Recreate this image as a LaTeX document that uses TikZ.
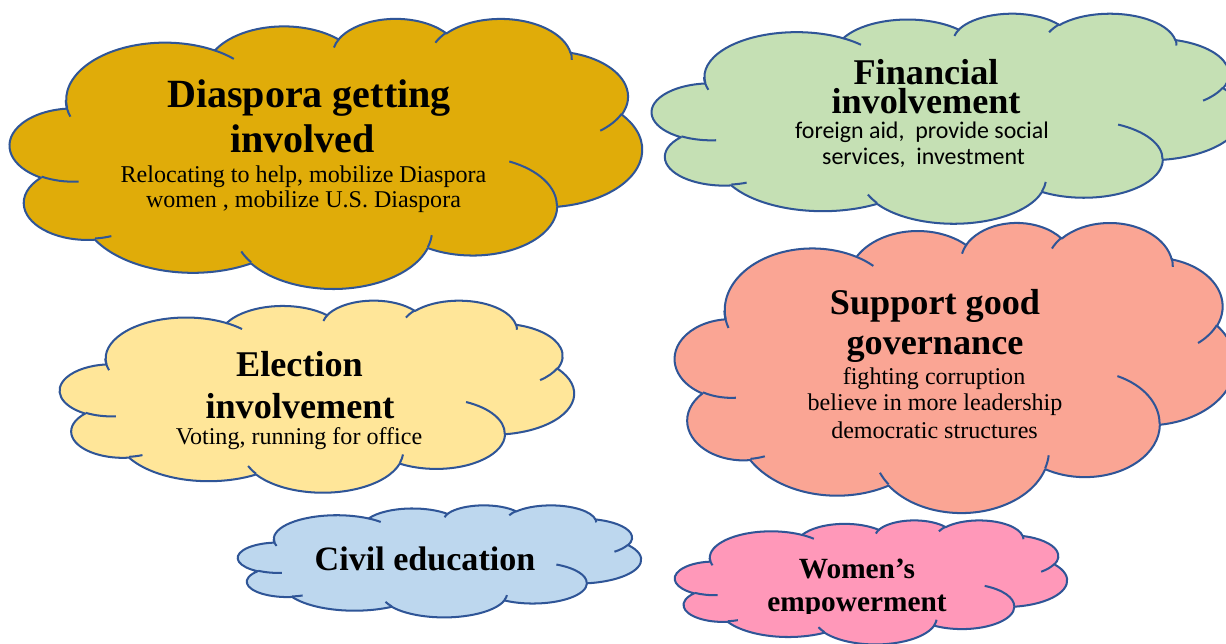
\documentclass[tikz,border=0pt]{standalone}
\usepackage{fontspec}
\setmainfont{Liberation Serif}
\newfontfamily\calfont{Carlito}
\definecolor{cgold}{RGB}{224,172,9}
\definecolor{cgreen}{RGB}{197,224,180}
\definecolor{cyellow}{RGB}{255,230,153}
\definecolor{csalmon}{RGB}{250,165,148}
\definecolor{cblue}{RGB}{189,215,238}
\definecolor{cpink}{RGB}{255,152,185}
\definecolor{cline}{RGB}{47,85,151}

\newcommand\defarc[5]{%
  \pgfmathsetmacro\clA{atan2((#2)*sin(#4),(#3)*cos(#4))}%
  \pgfmathsetmacro\clB{atan2((#2)*sin((#4)+(#5)),(#3)*cos((#4)+(#5)))}%
  \pgfmathsetmacro\clD{\clB-(\clA)}%
  \pgfmathsetmacro\clD{ifthenelse(\clD<0,\clD+360,\clD)}%
  \expandafter\xdef\csname clarc#1\endcsname{arc[x radius=#2,y radius=#3,start angle=\clA,delta angle=\clD]}}

\defarc{OA}{6.753}{9.190}{-190.4875}{123.7805}
\defarc{OB}{5.333}{7.267}{-144.1024}{89.9452}
\defarc{OC}{4.365}{5.945}{-145.8079}{99.7230}
\defarc{OD}{4.857}{6.595}{-130.9861}{117.2417}
\defarc{OE}{5.333}{7.273}{-78.7089}{109.0269}
\defarc{OF}{6.775}{9.220}{-46.2673}{130.2690}
\defarc{OG}{5.785}{7.867}{0.6250}{114.0333}
\defarc{OH}{6.752}{9.215}{22.4516}{115.1726}
\defarc{OI}{7.720}{10.543}{66.2426}{75.7110}
\defarc{OJ}{4.360}{5.918}{-274.9421}{146.7356}
\defarc{OK}{4.345}{5.945}{-246.8285}{152.5189}

\defarc{IA}{4.345}{5.945}{86.7420}{26.4295}
\defarc{IB}{4.360}{5.918}{73.6105}{11.4475}
\defarc{IC}{6.752}{9.215}{137.6242}{14.0811}
\defarc{ID}{6.752}{9.215}{6.4533}{15.9984}
\defarc{IE}{5.785}{7.867}{-70.2924}{70.9174}
\defarc{IF}{5.333}{7.273}{30.3180}{27.7515}
\defarc{IG}{4.857}{6.595}{-13.7443}{14.8589}
\defarc{IH}{4.857}{6.595}{-149.1815}{18.1954}
\defarc{II}{4.365}{5.945}{-163.4943}{17.6864}
\defarc{IJ}{6.753}{9.190}{-66.7070}{12.3194}
\defarc{IK}{6.753}{9.190}{156.4912}{21.7382}

\newcommand\cloudouter{(3.900,14.370) \clarcOA \clarcOB \clarcOC \clarcOD \clarcOE \clarcOF \clarcOG \clarcOH \clarcOI \clarcOJ \clarcOK -- cycle}
\newcommand\cloudinner{(4.693,26.177) \clarcIA (6.928,34.899) \clarcIB (16.478,39.090) \clarcIC (28.827,34.751) \clarcID (34.129,22.954) \clarcIE (41.798,15.354) \clarcIF (38.324,5.426) \clarcIG (29.078,3.952) \clarcIH (22.141,4.720) \clarcII (14.000,5.192) \clarcIJ (4.127,15.789) \clarcIK}

% #1 x0, #2 y0, #3 width, #4 height (pixels), #5 fill colour
\newcommand\drawcloud[5]{%
  \pgfmathsetmacro\clsx{#3*0.02/43.2}%
  \pgfmathsetmacro\clsy{-#4*0.02/43.2}%
  \begin{scope}[shift={(#1,#2)}, x=1cm, y=1cm, xscale=\clsx, yscale=\clsy]
    \filldraw[cloudline, fill=#5] \cloudouter;
    \draw[cloudline] \cloudinner;
  \end{scope}}

\begin{document}
\begin{tikzpicture}[x=0.02cm, y=-0.02cm,
  cloudline/.style={draw=cline, line width=1.15pt, line join=round},
  txt/.style={anchor=base, inner sep=0pt, outer sep=0pt, text=black},
  tbig/.style={txt, font=\fontsize{22.8}{24}\selectfont\bfseries},
  tmid/.style={txt, font=\fontsize{20.6}{22}\selectfont\bfseries},
  tciv/.style={txt, font=\fontsize{19.4}{21}\selectfont\bfseries},
  twom/.style={txt, font=\fontsize{16.7}{18}\selectfont\bfseries},
  tsub/.style={txt, font=\fontsize{13.7}{15}\selectfont},
  tcal/.style={txt, font=\fontsize{13.6}{15}\calfont}]
\clip (0,0) rectangle (1226,644);
\fill[white] (0,0) rectangle (1226,644);

\drawcloud{10}{18}{632}{270}{cgold}
\drawcloud{652}{13}{590}{210}{cgreen}
\drawcloud{60}{300}{514}{192}{cyellow}
\drawcloud{675}{222}{560}{290}{csalmon}
\drawcloud{238}{505}{403}{112}{cblue}
\drawcloud{675}{520}{392}{124}{cpink}

\node[tbig] (d1) at (309,108) {Diaspora getting};
\node[tbig] (d2) at (302.5,152.5) {involved};
\node[tsub] (d3) at (303.5,182.5) {Relocating to help, mobilize Diaspora};
\node[tsub] (d4) at (303.5,208) {women , mobilize U.S. Diaspora};

\node[tmid, anchor=north, align=center, font=\fontsize{20.6}{16.2}\selectfont\bfseries] (f1) at (926,59.5) {Financial\\involvement};
\node[tcal] (f3) at (922,139) {foreign aid,\ \ provide social};
\node[tcal] (f4) at (923.5,165) {services,\ \ investment};

\node[tmid] (e1) at (299.5,376.5) {Election};
\node[tmid] (e2) at (300,418.5) {involvement};
\node[tsub] (e3) at (299,445) {Voting, running for office};

\node[tmid] (s1) at (935,315) {Support good};
\node[tmid] (s2) at (935,354.5) {governance};
\node[tsub] (s3) at (934,385) {fighting corruption};
\node[tsub] (s4) at (935,411) {believe in more leadership};
\node[tsub] (s5) at (934.5,438.5) {democratic structures};

\node[tciv] (c1) at (425,570) {Civil education};

\node[twom] (w1) at (857,578) {Women’s};
\begin{scope}
\clip (600,590) rectangle (1100,613);
\node[twom] (w2) at (857,611) {empowerment};
\end{scope}
\end{tikzpicture}
\end{document}
